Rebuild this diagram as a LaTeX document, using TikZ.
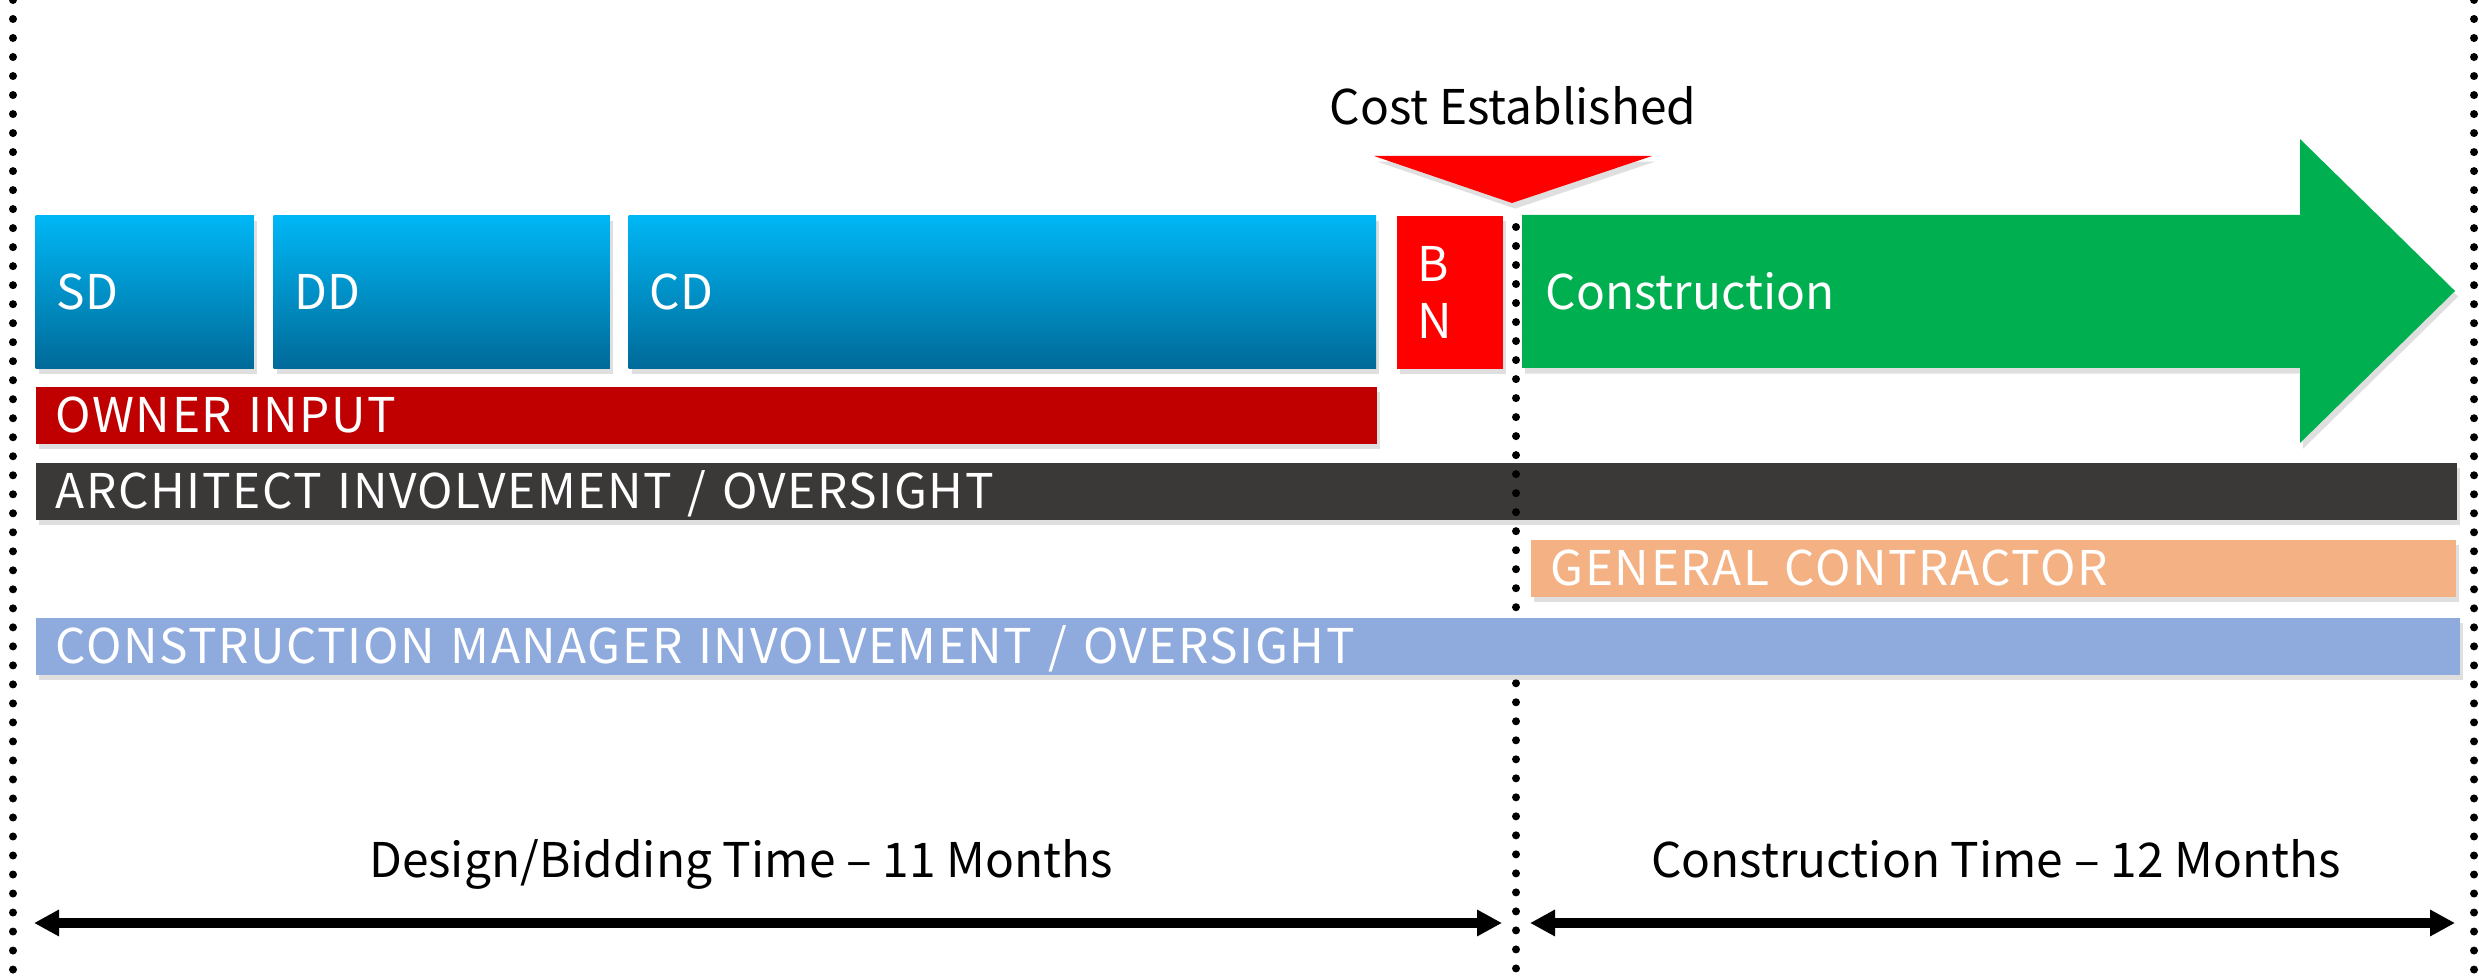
\documentclass[tikz,border=0pt]{standalone}
\usepackage{fontspec}
\setmainfont{Noto Sans CJK JP}
\usetikzlibrary{shadows,arrows.meta}

\definecolor{phasetop}{HTML}{00B7F5}
\definecolor{phasebot}{HTML}{006A99}
\definecolor{ownerred}{HTML}{C00000}
\definecolor{archgray}{HTML}{3B3838}
\definecolor{gcorange}{HTML}{F4B183}
\definecolor{cmblue}{HTML}{8FAADC}
\definecolor{bnred}{HTML}{FF0000}
\definecolor{constgreen}{HTML}{00B050}

\tikzset{
  lab/.style={font=\fontsize{13.6}{16.3}\selectfont, text=white, inner sep=0pt},
  shade/.style={drop shadow={shadow xshift=0.9pt, shadow yshift=-1.6pt, opacity=0.25}},
  phasebox/.style={lab, shade, anchor=north west, minimum height=1.53cm,
    inner xsep=0.21cm, align=left},
  phase/.style={phasebox, top color=phasetop, bottom color=phasebot},
  bar/.style={lab, shade, anchor=north west, text height=0.35cm, text depth=0cm,
    inner ysep=0.11cm, inner xsep=0.2cm, align=left,
    font=\fontsize{13.6}{16.3}\selectfont\addfontfeature{LetterSpace=3.2}},
  dots/.style={line width=0.08cm, line cap=round, dash pattern=on 0pt off 0.19cm},
  span/.style={line width=0.09cm,
    {Triangle[length=0.25cm,width=0.25cm]}-{Triangle[length=0.25cm,width=0.25cm]}}
}

\begin{document}
\begin{tikzpicture}[x=0.01cm,y=-0.01cm]
    \useasboundingbox (0,0) rectangle (2479,980);
    \coordinate (lt) at (13,0);
    \coordinate (lb) at (13,980);
    \coordinate (rt) at (2474,0);
    \coordinate (rb) at (2474,980);
    \coordinate (mt) at (1516,227);
    \coordinate (mb) at (1516,980);
	\draw [dots] (lt) -- (lb);
	\draw [dots] (rt) -- (rb);
	% phases
	\node [phase, text width=1.76cm] (sd) at (35,215) {SD};
	\node [phase, text width=2.94cm] (dd) at (273,215) {DD};
	\node [phase, text width=7.05cm] (cd) at (628,215) {CD};
	\node [phasebox, fill=bnred, text width=0.64cm] (bn) at (1396,215) {B\\N};
	\fill [constgreen, shade] (1522,215) -- (2300,215) -- (2300,139) -- (2455,291)
	    -- (2300,443) -- (2300,368) -- (1522,368) -- cycle;
	\node [lab, anchor=west] (cons) at (1545,291) {Construction};
	\fill [bnred, shade] (1374,156) -- (1652,156) -- (1512,203) -- cycle;
	\node [lab, text=black, anchor=base] (cost) at (1513,125) {Cost Established};
	% who is involved
	\node [bar, fill=ownerred, text width=13.0cm] (owner) at (35,386) {OWNER INPUT};
	\node [bar, fill=archgray, text width=23.8cm] (arch) at (35,462) {ARCHITECT INVOLVEMENT / OVERSIGHT};
	\draw [dots] (mt) -- (mb);
	\node [bar, fill=gcorange, text width=8.85cm] (gc) at (1530,539) {GENERAL CONTRACTOR};
	\node [bar, fill=cmblue, text width=23.83cm] (cm) at (35,617) {CONSTRUCTION MANAGER INVOLVEMENT / OVERSIGHT};
	% durations
    \coordinate (dl) at (34,923);
    \coordinate (dr) at (1502,923);
    \coordinate (cl) at (1530,923);
    \coordinate (cr) at (2455,923);
	\draw [span] (dl) -- (dr);
	\draw [span] (cl) -- (cr);
	\node [lab, text=black, anchor=base] (design) at (741,878) {Design/Bidding Time – 11 Months};
	\node [lab, text=black, anchor=base] (build) at (1996,878) {Construction Time – 12 Months};
\end{tikzpicture}
\end{document}
